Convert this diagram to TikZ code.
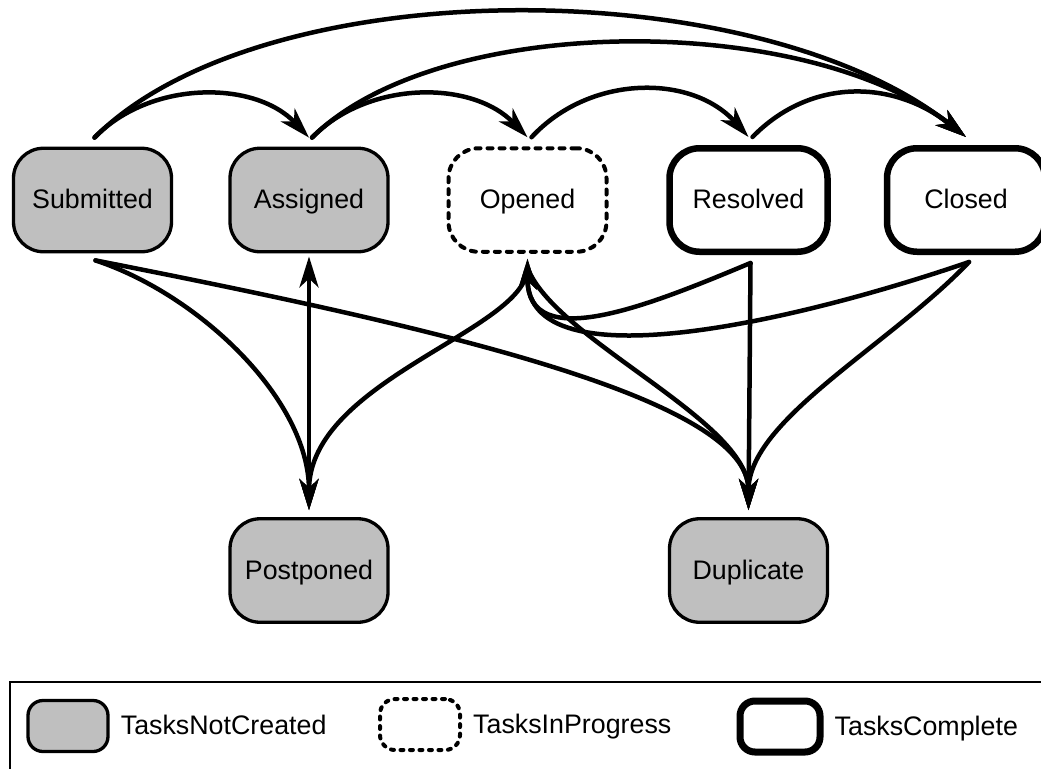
\documentclass[tikz,border=0pt]{standalone}
\usepackage{fontspec}
\setmainfont{Liberation Sans}
\usetikzlibrary{arrows.meta}
\definecolor{stategray}{RGB}{191,191,191}
\begin{document}
\begin{tikzpicture}[x=1pt,y=-1pt,
  txt/.style={font=\fontsize{26.8}{31}\selectfont, text height=21pt, text depth=4pt},
  state/.style={txt, draw, rounded corners=30pt, minimum width=158pt,
    minimum height=103.5pt, inner sep=0pt},
  notcreated/.style={state, fill=stategray, line width=3.3pt},
  inprogress/.style={state, line width=4pt, dash pattern=on 5pt off 7pt, line cap=round},
  complete/.style={state, line width=6.5pt},
  trans/.style={line width=4.5pt, line cap=round,
    -{Stealth[length=31pt,width=19pt,inset=9pt]}},
  legkey/.style={minimum width=80pt, minimum height=51pt, rounded corners=15pt},
  legtext/.style={txt, anchor=west, inner sep=0pt},
]
\useasboundingbox (0,0) rectangle (1041,769);

% states
\node[notcreated] (sub) at (92.5,200) {Submitted};
\node[notcreated] (asg) at (309,200) {Assigned};
\node[inprogress] (opn) at (527.5,200) {Opened};
\node[complete]   (res) at (748.5,200) {Resolved};
\node[complete]   (cls) at (966,200) {Closed};
\node[notcreated] (pst) at (309,570.5) {Postponed};
\node[notcreated] (dup) at (748.5,570.5) {Duplicate};

% transitions over the top
\draw[trans] ([xshift=2pt,yshift=9pt]sub.north) .. controls (150,80) and (255,80) .. ([yshift=9pt]asg.north);
\draw[trans] ([xshift=2pt,yshift=9pt]sub.north) .. controls (262,-30) and (754,-30) .. ([yshift=8pt]cls.north);
\draw[trans] ([xshift=3pt,yshift=9pt]asg.north) .. controls (368,80) and (472,80) .. ([yshift=9pt]opn.north);
\draw[trans] ([xshift=3pt,yshift=9pt]asg.north) .. controls (439,11.5) and (806,11.5) .. ([yshift=8pt]cls.north);
\draw[trans] ([xshift=4pt,yshift=9pt]opn.north) .. controls (590,74) and (692,74) .. ([yshift=8pt]res.north);
\draw[trans] ([xshift=4pt,yshift=8pt]res.north) .. controls (810,78) and (893,79) .. ([yshift=8pt]cls.north);

% transitions underneath
\draw[trans] ([xshift=3pt,yshift=-7pt]sub.south) .. controls (200,295) and (309,400) .. ([yshift=7pt]pst.north);
\draw[trans] ([xshift=3pt,yshift=-7pt]sub.south) .. controls (450,330) and (748.5,400) .. ([yshift=7pt]dup.north);
\draw[trans] ([yshift=-14pt]asg.south) -- ([yshift=7pt]pst.north);
\draw[trans] ([yshift=20pt]pst.north) -- ([yshift=-3pt]asg.south);
\draw[trans] ([yshift=-14pt]opn.south) .. controls (527,330) and (309,380) .. ([yshift=7pt]pst.north);
\draw[trans] ([xshift=2pt,yshift=-8pt]res.south) .. controls (650,305) and (527.5,355) .. ([yshift=-5pt]opn.south);
\draw[trans] ([xshift=3pt,yshift=-7pt]cls.south) .. controls (800,320) and (527.5,385) .. ([yshift=-5pt]opn.south);
\draw[trans] ([yshift=-14pt]opn.south) .. controls (555,340) and (748.5,420) .. ([yshift=7pt]dup.north);
\draw[trans] ([xshift=2pt,yshift=-8pt]res.south) -- ([yshift=7pt]dup.north);
\draw[trans] ([xshift=3pt,yshift=-7pt]cls.south) .. controls (890,345) and (748.5,420) .. ([yshift=7pt]dup.north);

% legend
\draw[line width=2.5pt] (1041,682) -| (10,769);
\node[notcreated, legkey] (k1) at (68,726) {};
\node[legtext] (k1t) at ([xshift=11pt]k1.east) {TasksNotCreated};
\node[inprogress, legkey, dash pattern=on 3pt off 6.5pt] (k2) at (420,724.5) {};
\node[legtext] (k2t) at ([xshift=11pt]k2.east) {TasksInProgress};
\node[complete, legkey, line width=7pt] (k3) at (780,726.5) {};
\node[legtext] (k3t) at ([xshift=11pt]k3.east) {TasksComplete};
\end{tikzpicture}
\end{document}
